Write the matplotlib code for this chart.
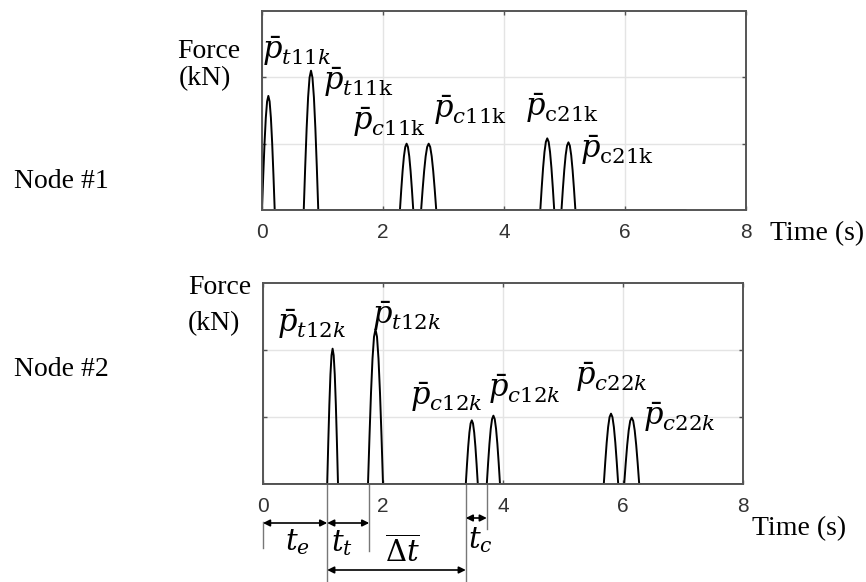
import numpy as np
import matplotlib
matplotlib.use("Agg")
import matplotlib.pyplot as plt
import matplotlib.transforms as mtransforms

plt.rcParams['mathtext.fontset'] = 'dejavuserif'

# pulse data: start / end time (s) and peak force
node1_start = [0.00, 0.69, 2.28, 2.63, 4.60, 4.95]
node1_end = [0.21, 0.93, 2.50, 2.88, 4.83, 5.18]
node1_peak = [1.72, 2.10, 1.00, 1.00, 1.08, 1.02]
node1_tend = 7.0

node2_start = [1.07, 1.75, 3.38, 3.73, 5.68, 6.02]
node2_end = [1.25, 2.00, 3.58, 3.95, 5.92, 6.27]
node2_peak = [2.02, 2.31, 0.95, 1.02, 1.05, 0.99]
node2_tend = 8.0

node1_labels = [r'$\bar{p}_{t11k}$', r'$\bar{p}_{t11\mathrm{k}}$', r'$\bar{p}_{c11\mathrm{k}}$',
                r'$\bar{p}_{c11\mathrm{k}}$', r'$\bar{p}_{\mathrm{c}21\mathrm{k}}$', r'$\bar{p}_{\mathrm{c}21\mathrm{k}}$']
node2_labels = [r'$\bar{p}_{t12k}$', r'$\bar{p}_{t12k}$', r'$\bar{p}_{c12k}$',
                r'$\bar{p}_{c12k}$', r'$\bar{p}_{c22k}$', r'$\bar{p}_{c22k}$']

xticks = [0, 2, 4, 6, 8]

W, H = 866, 582


def pulses(starts, ends, peaks, tend):
    t = [0.0]
    f = [0.0]
    for s, e, p in zip(starts, ends, peaks):
        u = np.linspace(0, 1, 11)
        t += list(s + (e - s) * u)
        f += list(p * np.sin(np.pi * u))
    t.append(tend)
    f.append(0.0)
    return np.array(t), np.array(f)


def px_axes(left, top, right, bottom):
    return [left / W, 1 - bottom / H, (right - left) / W, (bottom - top) / H]


def style(ax):
    ax.set_xlim(0, 8)
    ax.set_ylim(0, 3)
    ax.set_xticks(xticks)
    ax.set_yticks([1, 2])
    ax.set_yticklabels([])
    ax.grid(True, color='#e4e4e4', lw=1.0)
    ax.set_axisbelow(True)
    for sp in ax.spines.values():
        sp.set_color('#555555')
        sp.set_linewidth(1.4)
    ax.tick_params(direction='in', length=3, width=1, color='#555555',
                   top=True, right=True, labelsize=15, labelcolor='#333333', pad=9)
    for lab in ax.get_xticklabels():
        lab.set_fontfamily('Liberation Sans')


fig = plt.figure(figsize=(W / 100, H / 100), dpi=100)

ax1 = fig.add_axes(px_axes(262, 11, 746, 210))
t1, f1 = pulses(node1_start, node1_end, node1_peak, node1_tend)
ax1.plot(t1, f1, color='black', lw=1.4)
style(ax1)

ax2 = fig.add_axes(px_axes(263, 283, 743, 484))
t2, f2 = pulses(node2_start, node2_end, node2_peak, node2_tend)
ax2.plot(t2, f2, color='black', lw=1.4)
style(ax2)

# peak labels
lab1_pos = [(0.00, 2.40), (1.01, 1.93), (1.49, 1.33), (2.83, 1.51), (4.35, 1.54), (5.26, 0.90)]
for txt, (x, y) in zip(node1_labels, lab1_pos):
    ax1.text(x, y, txt, fontsize=22, ha='left', va='center')
lab2_pos = [(0.23, 2.39), (1.82, 2.51), (2.45, 1.30), (3.75, 1.42), (5.20, 1.60), (6.33, 1.00)]
for txt, (x, y) in zip(node2_labels, lab2_pos):
    ax2.text(x, y, txt, fontsize=22, ha='left', va='center')

serif = 'Liberation Serif'


def ftext(x, y, s, size=20):
    fig.text(x / W, 1 - y / H, s, family=serif, fontsize=size, va='center')


ftext(14, 181, 'Node #1')
ftext(14, 370, 'Node #2')
ftext(177, 52, 'Force')
ftext(179, 79, '(kN)')
ftext(188, 287, 'Force')
ftext(188, 324, '(kN)')
ftext(770, 234, 'Time (s)')
ftext(752, 529, 'Time (s)')

# dimension lines below node #2
tr = mtransforms.blended_transform_factory(ax2.transData, ax2.transAxes)


def yfr(py):
    return (484 - py) / 201


vlines = [(0.0, 522, 548), (1.07, 484, 582), (1.77, 484, 551), (3.38, 484, 582), (3.73, 484, 529)]
for x, ya, yb in vlines:
    ax2.plot([x, x], [yfr(ya), yfr(yb)], transform=tr, color='#777777', lw=1.0, clip_on=False)

arrows = [(0.0, 1.07, 523), (1.07, 1.77, 523), (3.38, 3.73, 518), (1.07, 3.38, 570)]
for xa, xb, py in arrows:
    ax2.annotate('', xy=(xb, yfr(py)), xytext=(xa, yfr(py)), xycoords=tr, textcoords=tr,
                 arrowprops=dict(arrowstyle='<|-|>', color='black', lw=1.2,
                                 mutation_scale=10, shrinkA=0, shrinkB=0))

dims = [(0.58, 542, r'$t_e$'), (1.32, 543, r'$t_t$'), (2.32, 552, r'$\overline{\Delta t}$'),
        (3.62, 540, r'$t_c$')]
for x, py, s in dims:
    ax2.text(x, yfr(py), s, transform=tr, fontsize=21, ha='center', va='center')

fig.savefig('out.png', dpi=100)
